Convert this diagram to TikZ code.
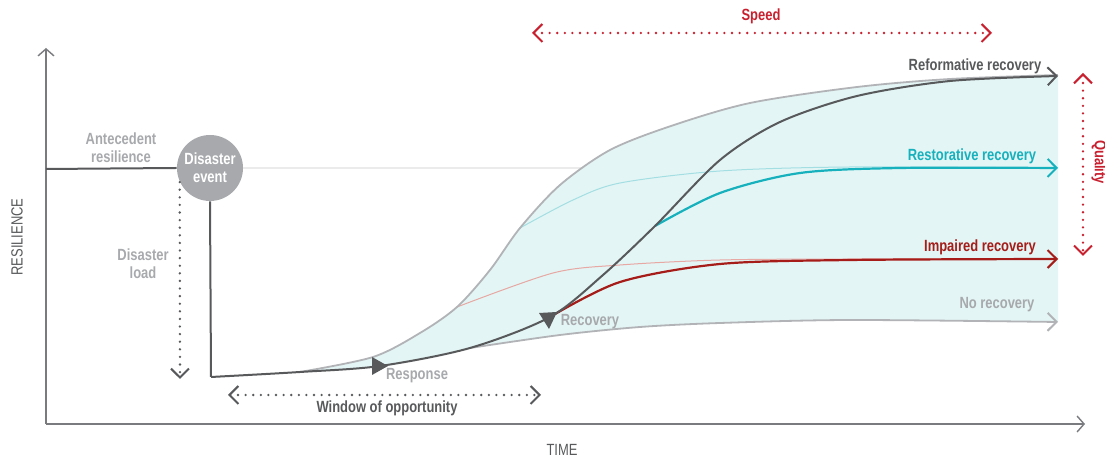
\documentclass[tikz,border=0pt]{standalone}
\usepackage{fontspec}
\setmainfont{Liberation Sans}[FakeStretch=0.8]
\usetikzlibrary{arrows.meta}

\definecolor{darkline}{HTML}{58595B}
\definecolor{lighttext}{HTML}{A7A9AC}
\definecolor{envline}{HTML}{B1B3B6}
\definecolor{envfill}{HTML}{E3F5F5}
\definecolor{teal}{HTML}{17B1BD}
\definecolor{teallight}{HTML}{A3DEE3}
\definecolor{darkred}{HTML}{A51C18}
\definecolor{redlight}{HTML}{E7A8A3}
\definecolor{speedred}{HTML}{C8202F}
\definecolor{axisgray}{HTML}{7A7B7E}

\begin{document}
\begin{tikzpicture}[x=0.5pt,y=-0.5pt,
    every node/.style={font=\fontsize{8.1}{8.8}\selectfont\bfseries, align=center, inner sep=0pt},
    barb/.style={-{Straight Barb[length=4.5pt,width=9pt,line width=1pt]}},
    twobarb/.style={{Straight Barb[length=4.5pt,width=9pt,line width=1pt]}-{Straight Barb[length=4.5pt,width=9pt,line width=1pt]}},
    dots/.style={line width=1.3pt, dash pattern=on 0pt off 3.8pt, line cap=round},
    axis/.style={axisgray, line width=0.7pt, -{Straight Barb[length=3.5pt,width=8pt,line width=0.7pt]}},
    envelope/.style={envline, line width=0.9pt},
    main/.style={darkline, line width=1pt},
    faint/.style={line width=0.5pt}]

    \useasboundingbox (0,0) rectangle (1105,458);

    % axes
    \coordinate (origin) at (46,424);
    \coordinate (ytop) at (46,48);
    \coordinate (xend) at (1085,424);
    \draw[axis] (origin) -- (ytop);
    \draw[axis] (origin) -- (xend);
    \node[darkline, rotate=90, font=\fontsize{8.1}{8.8}\selectfont] (resilience) at (17,237) {RESILIENCE};
    \node[darkline, font=\fontsize{8.1}{8.8}\selectfont] (time) at (562,450) {TIME};

    % disaster event
    \node[circle, fill=lighttext, minimum size=33pt, text=white] (event) at (210,168) {Disaster\\event};
    \coordinate (ante) at (46,169);
    \coordinate (faintend) at (1058,168);
    \coordinate (bottom) at (211,377);
    \coordinate (loadend) at (180,379);
    \draw[black!8, line width=0.6pt] (event.east) -- (faintend);

    % envelope of recovery
    \fill[envfill] plot[smooth] coordinates {(300,372) (373,357) (420,333) (457,307) (490,270) (520,228) (560,185) (610,150) (671,126) (750,103) (857,87) (950,79) (1058,75)}
        -- (1058,322)
        -- plot[smooth] coordinates {(1058,322) (850,320) (720,323) (640,327) (560,335) (470,348)}
        -- plot[smooth] coordinates {(470,348) (380,366) (300,372)} -- cycle;

    % faint paths
    \draw[teallight, faint] plot[smooth] coordinates {(520,228) (573,200) (620,183) (720,171) (850,167) (1058,168)};
    \draw[redlight, faint] plot[smooth] coordinates {(457,307) (553,273) (620,265) (720,260) (850,259) (1058,259)};
    \draw[envelope] plot[smooth] coordinates {(300,372) (373,357) (420,333) (457,307) (490,270) (520,228) (560,185) (610,150) (671,126) (750,103) (857,87) (950,79) (1058,75)};

    % recovery paths
    \coordinate (rec) at (550,317);
    \coordinate (branch) at (655,226);
    \coordinate (noend) at (1058,322);
    \coordinate (impend) at (1058,259);
    \coordinate (resend) at (1058,168);
    \coordinate (refend) at (1058,76);
    \draw[envelope, barb] plot[smooth] coordinates {(470,348) (560,335) (640,327) (720,323) (850,320) (noend)};
    \draw[darkred, line width=1.1pt, barb] plot[smooth] coordinates {(rec) (620,282) (720,264) (850,260) (impend)};
    \draw[teal, line width=1.1pt, barb] plot[smooth] coordinates {(branch) (720,193) (800,173) (900,168) (resend)};

    % antecedent resilience and drop
    \draw[main] (ante) -- (event.west);
    \draw[main] (event.south) -- (bottom);
    \draw[main, barb] plot[smooth] coordinates {(bottom) (300,372) (380,366) (470,348) (rec) (603,275) (branch) (720,160) (780,122) (857,96) (950,81) (refend)};
    \fill[darkline] (372,357) -- (388,366) -- (372,375) -- cycle;
    \fill[darkline] (539,313) -- (557,312) -- (549,329) -- cycle;
    \draw[darkline, dots, barb] (event.205) -- (loadend);

    % labels
    \node[lighttext] (antelabel) at (121,148) {Antecedent\\resilience};
    \node[lighttext] (loadlabel) at (143,264) {Disaster\\load};
    \node[lighttext] (response) at (417,376) {Response};
    \node[lighttext] (recovery) at (590,322) {Recovery};
    \node[darkline] (reflabel) at (975,66) {Reformative recovery};
    \node[teal] (reslabel) at (972,156) {Restorative recovery};
    \node[darkred] (implabel) at (980,247) {Impaired recovery};
    \node[lighttext] (nolabel) at (997,305) {No recovery};

    % window of opportunity
    \coordinate (winl) at (228,395);
    \coordinate (winr) at (541,395);
    \draw[darkline, dots, twobarb] (winl) -- (winr);
    \node[darkline] (window) at (387,408) {Window of opportunity};

    % speed and quality
    \coordinate (speedl) at (532,33);
    \coordinate (speedr) at (992,33);
    \draw[speedred, dots, twobarb] (speedl) -- (speedr);
    \node[speedred] (speed) at (761,16) {Speed};
    \coordinate (qualt) at (1083,73);
    \coordinate (qualb) at (1083,256);
    \draw[speedred, dots, twobarb] (qualt) -- (qualb);
    \node[speedred, rotate=-90] (quality) at (1099,162) {Quality};
\end{tikzpicture}
\end{document}
